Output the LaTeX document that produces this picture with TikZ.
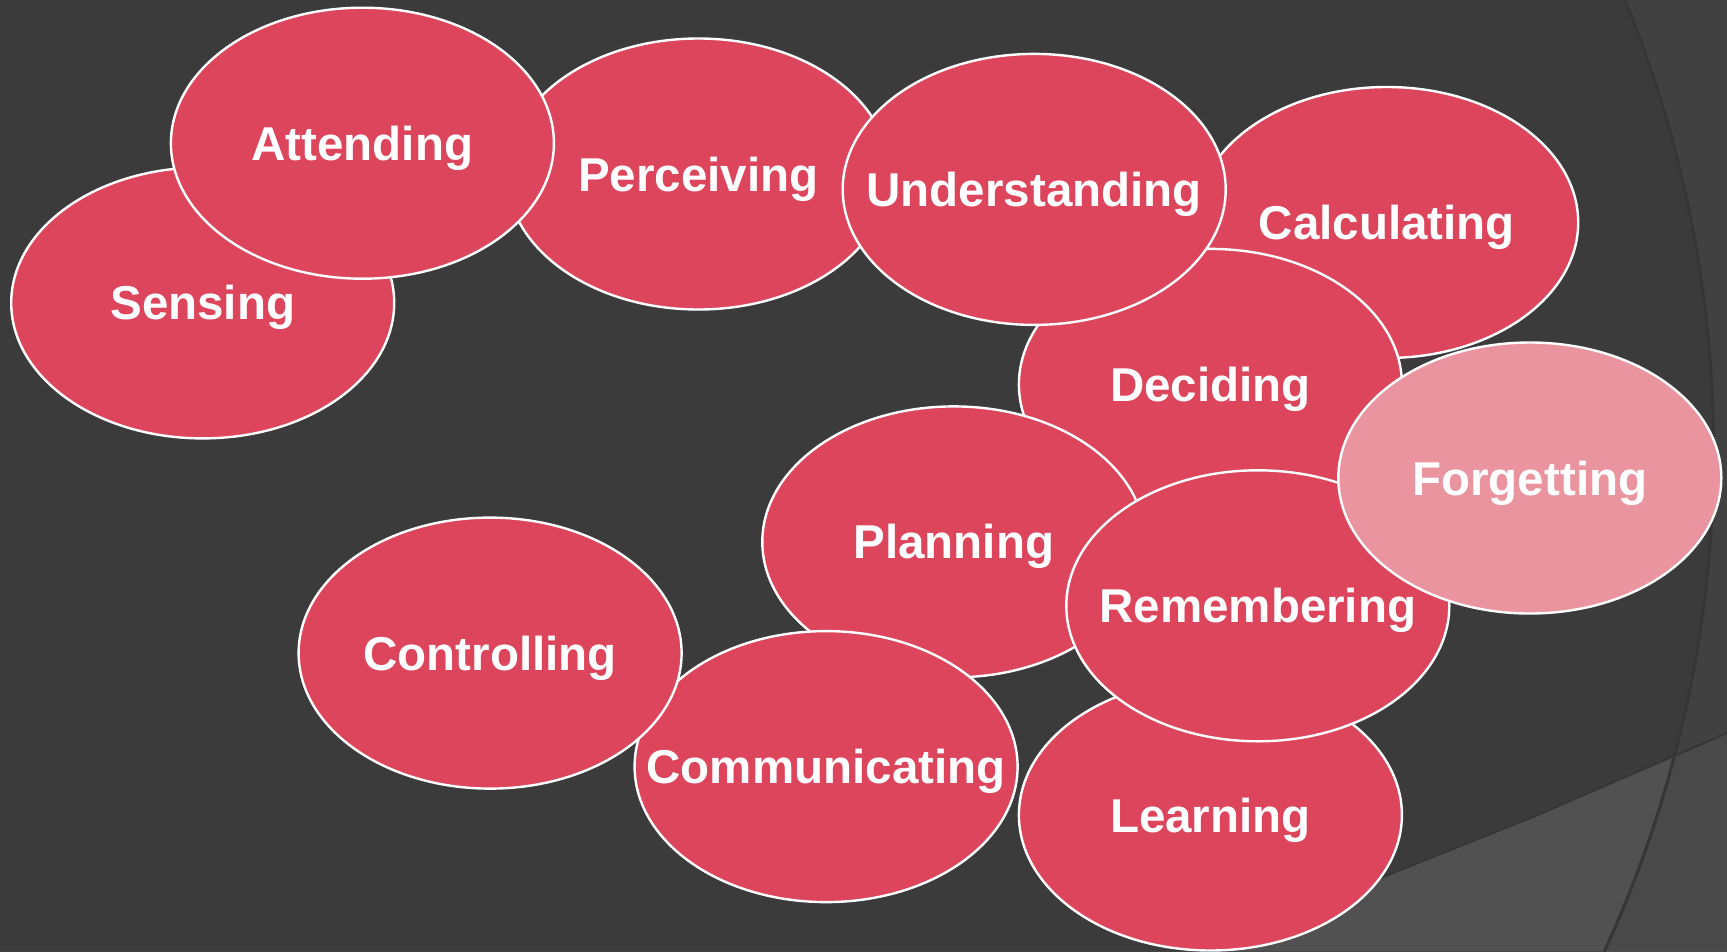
\documentclass[tikz,border=0pt]{standalone}
\usepackage{fontspec}
\setmainfont{Liberation Sans}
\usetikzlibrary{shapes.geometric}
\definecolor{bgbase}{HTML}{3B3B3B}
\definecolor{bgouter}{HTML}{414141}
\definecolor{bgwedge}{HTML}{515151}
\definecolor{bgwedgeouter}{HTML}{494949}
\definecolor{bgshade}{HTML}{363636}
\definecolor{bubred}{HTML}{DC455B}
\definecolor{bubpink}{HTML}{EA949F}
\tikzset{
  bub/.style={ellipse, draw=white, line width=2.4pt, fill=bubred,
    minimum width=383pt, minimum height=271pt, inner sep=0pt},
  pale/.style={fill=bubpink},
  txt/.style={text=white, font=\fontsize{47.5}{57}\selectfont\bfseries, inner sep=0pt, anchor=base}
}
\newcommand{\bubble}[4][]{%
  \node[bub,#1] (#2) at (#3) {};
  \node[txt] (#2-t) at ([yshift=-17pt]#2.center) {#4};
}
\begin{document}
\begin{tikzpicture}[x=1pt,y=-1pt]
\useasboundingbox (0,0) rectangle (1727,951);
% background
\fill[bgbase] (0,0) rectangle (1727,951);
\begin{scope}
  \clip (0,0) rectangle (1727,951);
  \fill[bgouter, even odd rule] (0,0) rectangle (1727,951) (520,452) circle (1192);
  \fill[bgwedge] (1150,975) -- (1383,877) -- (1533,817) -- (1727,733) -- (1727,975) -- cycle;
  \begin{scope}
    \clip (1150,975) -- (1383,877) -- (1533,817) -- (1727,733) -- (1727,975) -- cycle;
    \fill[bgwedgeouter, even odd rule] (0,0) rectangle (1727,951) (520,452) circle (1192);
  \end{scope}
  \draw[bgshade, line width=3pt] (520,452) circle (1193.5);
  \draw[bgshade, line width=2pt] (1150,975) -- (1383,877) -- (1533,817) -- (1727,733);
\end{scope}
% bubbles, from back to front
\bubble{sensing}{202.7,302.9}{Sensing}
\bubble{perceiving}{698.3,174.0}{Perceiving}
\bubble{attending}{362.4,143.2}{Attending}
\bubble{calculating}{1386.7,222.5}{Calculating}
\bubble{deciding}{1210.4,384.4}{Deciding}
\bubble{understanding}{1034.2,189.4}{Understanding}
\bubble{planning}{953.8,541.9}{Planning}
\bubble{learning}{1210.4,815.0}{Learning}
\bubble{remembering}{1257.8,605.8}{Remembering}
\bubble[pale]{forgetting}{1529.8,478.0}{Forgetting}
\bubble{communicating}{826.1,766.6}{Communicating}
\bubble{controlling}{490.1,653.1}{Controlling}
\end{tikzpicture}
\end{document}
